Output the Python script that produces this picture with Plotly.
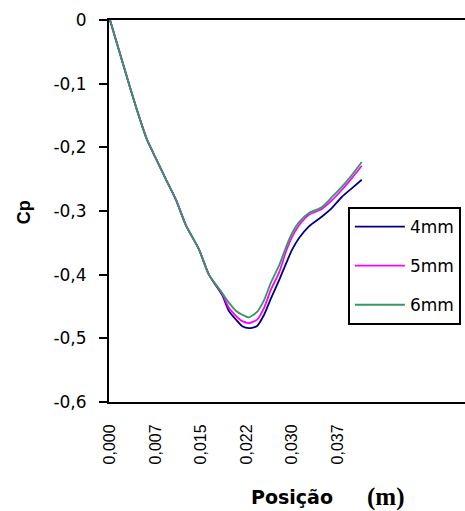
import plotly.graph_objects as go

# Position (m)
posicao = [0.0000, 0.0023, 0.0043, 0.0061, 0.0077, 0.0092, 0.0109, 0.0125, 0.0147, 0.0163,
           0.0185, 0.0196, 0.0208, 0.0218, 0.0229, 0.0242, 0.0254, 0.0265, 0.0279, 0.0290,
           0.0300, 0.0312, 0.0328, 0.0349, 0.0366, 0.0382, 0.0399, 0.0415]

cp_4mm = [0.0, -0.074, -0.137, -0.188, -0.220, -0.250, -0.283, -0.322, -0.361, -0.400,
          -0.432, -0.457, -0.471, -0.481, -0.484, -0.481, -0.463, -0.438, -0.408, -0.383,
          -0.361, -0.342, -0.324, -0.309, -0.295, -0.278, -0.264, -0.251]
cp_5mm = [0.0, -0.074, -0.137, -0.188, -0.220, -0.250, -0.283, -0.322, -0.361, -0.400,
          -0.430, -0.452, -0.465, -0.473, -0.476, -0.471, -0.452, -0.424, -0.396, -0.364,
          -0.341, -0.322, -0.306, -0.297, -0.283, -0.267, -0.248, -0.229]
cp_6mm = [0.0, -0.074, -0.137, -0.188, -0.220, -0.250, -0.283, -0.322, -0.361, -0.400,
          -0.429, -0.444, -0.457, -0.463, -0.467, -0.459, -0.440, -0.413, -0.385, -0.357,
          -0.335, -0.317, -0.303, -0.294, -0.278, -0.262, -0.243, -0.223]

series_names = ["4mm", "5mm", "6mm"]
series_colors = ["#000080", "#FF00FF", "#339966"]

x_tickvals = [0.0, 0.0075, 0.015, 0.0225, 0.030, 0.0375]
x_ticktext = ["0,000", "0,007", "0,015", "0,022", "0,030", "0,037"]
y_tickvals = [0, -0.1, -0.2, -0.3, -0.4, -0.5, -0.6]
y_ticktext = ["0", "-0,1", "-0,2", "-0,3", "-0,4", "-0,5", "-0,6"]

fig = go.Figure()
for name, vals, col in zip(series_names, [cp_4mm, cp_5mm, cp_6mm], series_colors):
    fig.add_trace(go.Scatter(
        x=posicao, y=vals, name=name, mode="lines",
        line=dict(color=col, width=1.8, shape="spline", smoothing=0.6),
        legendgroup=name,
    ))

fig.update_layout(
    width=465, height=511,
    margin=dict(l=109, r=0, t=20, b=109),
    paper_bgcolor="white", plot_bgcolor="white",
    showlegend=True,
    legend=dict(
        x=0.671, y=0.5105, xanchor="left", yanchor="top",
        bordercolor="black", borderwidth=2, bgcolor="white",
        font=dict(family="DejaVu Sans", size=17, color="black"),
        tracegroupgap=14, itemwidth=50,
        traceorder="grouped",
        entrywidth=125, entrywidthmode="pixels",
    ),
    font=dict(family="Liberation Sans", color="black"),
)

fig.update_xaxes(
    range=[-0.000165, 0.05852],
    tickvals=x_tickvals, ticktext=x_ticktext, tickangle=-90,
    ticks="", showgrid=False, zeroline=False,
    showline=True, linecolor="black", linewidth=2, mirror=True,
    tickfont=dict(family="Liberation Sans", size=16, color="black"),
    ticklabelstandoff=14,
)
fig.update_yaxes(
    range=[-0.6, 0],
    tickvals=y_tickvals, ticktext=y_ticktext,
    ticks="outside", ticklen=8, tickwidth=2, tickcolor="black",
    showgrid=False, zeroline=False,
    showline=True, linecolor="black", linewidth=2,
    tickfont=dict(family="DejaVu Sans", size=17, color="black"),
    ticklabelstandoff=9,
)

fig.add_annotation(text="<b>Cp</b>", x=-0.2388, y=0.497, xref="paper", yref="paper",
                   textangle=-90, showarrow=False, xanchor="center", yanchor="middle",
                   font=dict(family="Liberation Sans", size=18, color="black"))
fig.add_annotation(text="<b>Posição</b>", x=0.5154, y=-0.2487, xref="paper", yref="paper",
                   showarrow=False, xanchor="center", yanchor="middle",
                   font=dict(family="DejaVu Sans", size=19, color="black"))
fig.add_annotation(text="<b>(m)</b>", x=0.7753, y=-0.2487, xref="paper", yref="paper",
                   showarrow=False, xanchor="center", yanchor="middle",
                   font=dict(family="Liberation Serif", size=25, color="black"))

fig.write_html("out.html")
